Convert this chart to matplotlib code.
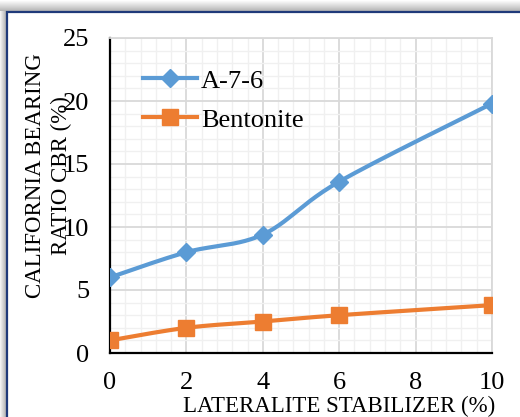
import numpy as np
import matplotlib.pyplot as plt
from matplotlib.patches import Rectangle
from matplotlib.ticker import MultipleLocator

plt.rcParams['font.family'] = ['Liberation Serif', 'DejaVu Serif']

# 稳定剂掺量 (%)
x = [0, 2, 4, 6, 10]
# CBR 值 (%)
cbr_a76 = [6.0, 8.0, 9.4, 13.6, 19.8]
cbr_bent = [1.0, 2.0, 2.5, 3.0, 3.8]

BLUE = '#5B9BD5'
ORANGE = '#ED7D31'


def smooth(xs, ys, n=40):
    # 平滑曲线：分段三次贝塞尔，控制点取相邻点差值的 1/6
    xs = np.asarray(xs, float)
    ys = np.asarray(ys, float)
    px = np.concatenate([[xs[0]], xs, [xs[-1]]])
    py = np.concatenate([[ys[0]], ys, [ys[-1]]])
    out_x, out_y = [], []
    t = np.linspace(0, 1, n)
    for i in range(1, len(xs)):
        p0 = np.array([px[i], py[i]])
        p3 = np.array([px[i + 1], py[i + 1]])
        c1 = p0 + (np.array([px[i + 1], py[i + 1]]) - np.array([px[i - 1], py[i - 1]])) / 6
        c2 = p3 - (np.array([px[i + 2], py[i + 2]]) - np.array([px[i], py[i]])) / 6
        b = ((1 - t) ** 3)[:, None] * p0 + (3 * (1 - t) ** 2 * t)[:, None] * c1 \
            + (3 * (1 - t) * t ** 2)[:, None] * c2 + (t ** 3)[:, None] * p3
        out_x.extend(b[:, 0])
        out_y.extend(b[:, 1])
    return out_x, out_y


fig = plt.figure(figsize=(5.2, 4.17), dpi=100)
fig.patch.set_facecolor('white')

# 外框和阴影
bg = fig.add_axes([0, 0, 1, 1], zorder=-10)
bg.axis('off')
top = np.linspace(1.0, 0.72, 11)[:, None] * np.ones((1, 520))
bg.imshow(np.dstack([top] * 3), extent=(0, 520, 11, 0), aspect='auto')
left = np.ones((1, 6)) * np.linspace(0.95, 0.72, 6)[None, :] * np.ones((417, 1))
bg.imshow(np.dstack([left] * 3), extent=(0, 6, 417, 11), aspect='auto')
bg.add_patch(Rectangle((7, 12), 520, 420, facecolor='white', edgecolor='#1F3A7A', linewidth=1.6))
bg.set_xlim(0, 520)
bg.set_ylim(417, 0)

ax = fig.add_axes([110 / 520, 1 - 353 / 417, 382 / 520, 315 / 417])
ax.set_facecolor('white')

sx, sy = smooth(x, cbr_a76)
ax.plot(sx, sy, color=BLUE, linewidth=3, solid_capstyle='round', zorder=3)
ax.plot(x, cbr_a76, linestyle='none', marker='D', markersize=9, color=BLUE, zorder=4)
sx, sy = smooth(x, cbr_bent)
ax.plot(sx, sy, color=ORANGE, linewidth=3, solid_capstyle='round', zorder=3)
ax.plot(x, cbr_bent, linestyle='none', marker='s', markersize=12, color=ORANGE, zorder=4)

# 图例用的句柄
ax.plot([], [], color=BLUE, linewidth=3, marker='D', markersize=9, label='A-7-6')
ax.plot([], [], color=ORANGE, linewidth=3, marker='s', markersize=12, label='Bentonite')

ax.set_xlim(0, 10)
ax.set_ylim(0, 25)
ax.xaxis.set_major_locator(MultipleLocator(2))
ax.xaxis.set_minor_locator(MultipleLocator(0.4))
ax.yaxis.set_major_locator(MultipleLocator(5))
ax.yaxis.set_minor_locator(MultipleLocator(1))
ax.grid(which='major', color='#d9d9d9', linewidth=1.3, zorder=0)
ax.grid(which='minor', color='#f0f0f0', linewidth=1.0, zorder=0)
ax.set_axisbelow(True)
ax.tick_params(which='both', length=0, labelsize=19)
ax.tick_params(axis='y', pad=15)
ax.tick_params(axis='x', pad=14)

for s in ['top', 'right']:
    ax.spines[s].set_color('#d9d9d9')
    ax.spines[s].set_linewidth(1.3)
for s in ['left', 'bottom']:
    ax.spines[s].set_color('black')
    ax.spines[s].set_linewidth(1.6)

ax.set_ylabel('CALIFORNIA BEARING\nRATIO CBR (%)', fontsize=16.5, linespacing=1.3)
ax.yaxis.set_label_coords(-0.10, 0.562)
ax.set_xlabel('LATERALITE STABILIZER (%)', fontsize=16.5)
ax.xaxis.set_label_coords(0.60, -0.135)

ax.legend(loc='upper left', bbox_to_anchor=(0.058, 0.935), frameon=False, fontsize=19,
          handlelength=2.05, handletextpad=0.15, labelspacing=0.59, borderaxespad=0)

fig.savefig('out.png', dpi=100)
